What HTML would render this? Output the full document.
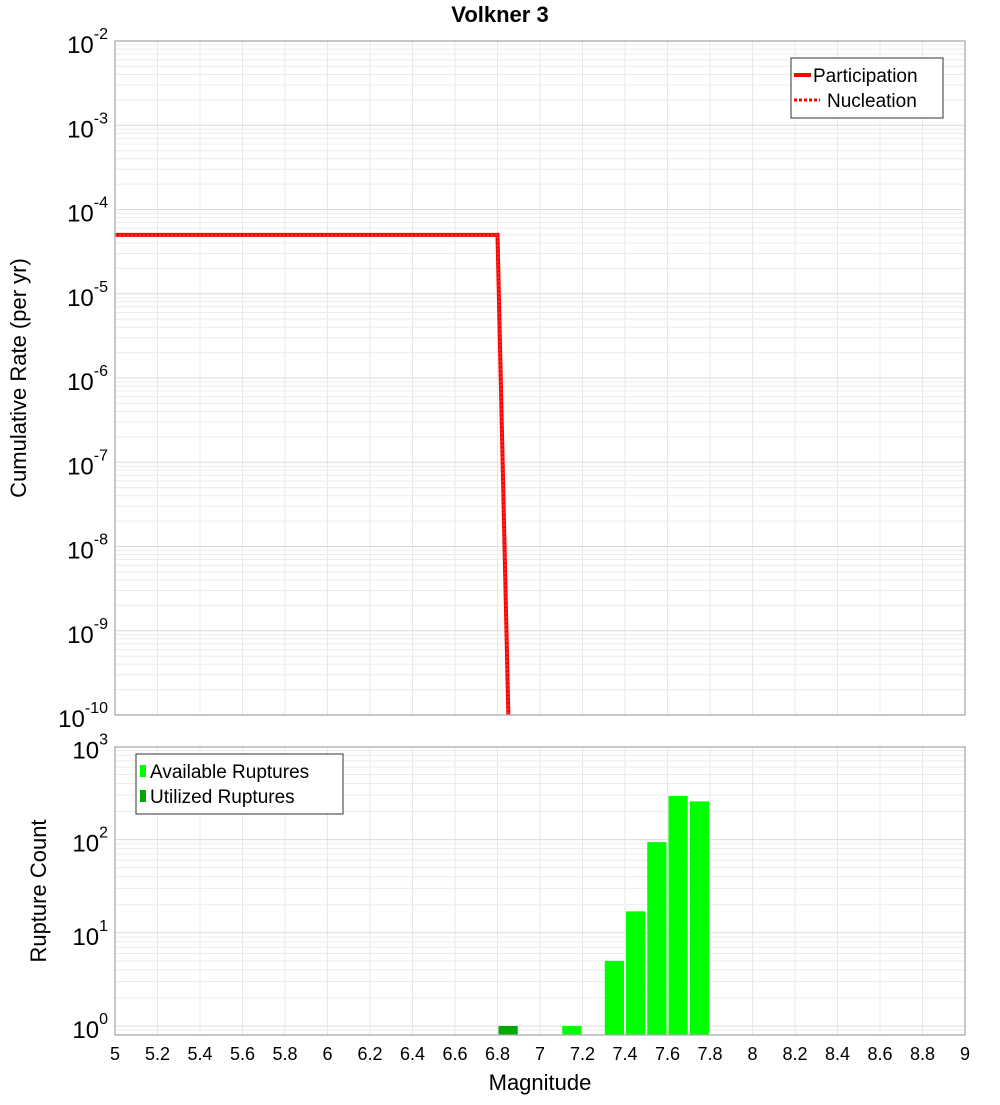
<!DOCTYPE html>
<html><head><meta charset="utf-8"><style>
body{margin:0;background:#fff;}
svg text{font-family:"Liberation Sans","DejaVu Sans",sans-serif;}
</style></head><body>
<svg id="chart" width="1000" height="1100" xmlns="http://www.w3.org/2000/svg">
<text x="500" y="22" text-anchor="middle" font-size="22" font-weight="bold">Volkner 3</text>
<g id="topPlot"></g>
<g id="botPlot"></g>
<text transform="translate(26,378) rotate(-90)" text-anchor="middle" font-size="22">Cumulative Rate (per yr)</text>
<text transform="translate(46,891) rotate(-90)" text-anchor="middle" font-size="22">Rupture Count</text>
<text x="540" y="1090" text-anchor="middle" font-size="22">Magnitude</text>
</svg>
<script>
const rateMags=[5,6.8,6.86];
const rateVals=[5e-5,5e-5,1e-11];
const barMags=[6.85,7.15,7.35,7.45,7.55,7.65,7.75];
const barCounts=[1,1,5,17,94,294,257];
const barUtilized=[true,false,false,false,false,false,false];
const xTicks=[5,5.2,5.4,5.6,5.8,6,6.2,6.4,6.6,6.8,7,7.2,7.4,7.6,7.8,8,8.2,8.4,8.6,8.8,9];
const rateExps=[-2,-3,-4,-5,-6,-7,-8,-9,-10];
const countExps=[0,1,2,3];
const NS="http://www.w3.org/2000/svg";
const X0=115,X1=965;
const xs=m=>X0+(m-5)/4*(X1-X0);
const T0=41,T1=715, yT=v=>T0+(-2-Math.log10(v))/8*(T1-T0);
const B0=747,B1=1035, DEC=93.2, yB=v=>1026-Math.log10(v)*DEC;
function mk(p,t,a){const e=document.createElementNS(NS,t);for(const k in a)e.setAttribute(k,a[k]);p.appendChild(e);return e;}
const topG=document.getElementById('topPlot'),botG=document.getElementById('botPlot');
const defs=mk(document.getElementById('chart'),'defs',{});
const c1=mk(defs,'clipPath',{id:'c1'});mk(c1,'rect',{x:X0,y:T0,width:X1-X0,height:T1-T0});
const c2=mk(defs,'clipPath',{id:'c2'});mk(c2,'rect',{x:X0,y:B0,width:X1-X0,height:B1-B0});
function xgrid(g,y0,y1){for(let m=5;m<=9.001;m+=0.2){const l=mk(g,'line',{x1:xs(m),x2:xs(m),y1:y0,y2:y1,stroke:'#e8e8e8','stroke-width':1});}}
xgrid(topG,T0,T1);xgrid(botG,B0,B1);
for(let e=-10;e<-2;e++)for(let k=1;k<10;k++){const y=yT(k*Math.pow(10,e));const l=mk(topG,'line',{x1:X0,x2:X1,y1:y,y2:y,stroke:k==1?'#dcdcdc':'#ececec','stroke-width':1});}
for(let e=-1;e<3;e++)for(let k=1;k<10;k++){const v=k*Math.pow(10,e);const y=yB(v);if(y<B0||y>B1)continue;const l=mk(botG,'line',{x1:X0,x2:X1,y1:y,y2:y,stroke:k==1?'#dcdcdc':'#ececec','stroke-width':1});}
const d=rateMags.map((m,i)=>(i?'L':'M')+xs(m)+','+yT(rateVals[i])).join(' ');
const g1=mk(topG,'g',{'clip-path':'url(#c1)'});
const p1=mk(g1,'path',{d:d,fill:'none',stroke:'#ff0000','stroke-width':4});


const p2=mk(g1,'path',{d:d,fill:'none',stroke:'#ff3030','stroke-width':2,'stroke-dasharray':'2,2'});


mk(topG,'rect',{x:X0,y:T0,width:X1-X0,height:T1-T0,fill:'none',stroke:'#aaa','stroke-width':1.3});
const g2=mk(botG,'g',{'clip-path':'url(#c2)'});
barMags.forEach((m,i)=>{const y=yB(barCounts[i]);const r=mk(g2,'rect',{x:xs(m-0.05)+1,y:y,width:xs(m+0.05)-xs(m-0.05)-2,height:B1-y,fill:barUtilized[i]?'#00aa00':'#00ff00'});

});
mk(botG,'rect',{x:X0,y:B0,width:X1-X0,height:B1-B0,fill:'none',stroke:'#aaa','stroke-width':1.3});
function expLabel(g,y,e){const t=mk(g,'text',{x:108,y:y+12,'text-anchor':'end','font-size':24});


t.textContent='10';const s=mk(t,'tspan',{dy:-14,'font-size':16});s.textContent=String(e);}
rateExps.forEach(e=>expLabel(topG,yT(Math.pow(10,e)),e));
countExps.forEach(e=>expLabel(botG,yB(Math.pow(10,e)),e));
xTicks.forEach(m=>{const t=mk(botG,'text',{x:xs(m),y:1060,'text-anchor':'middle','font-size':18});


t.textContent=String(m);});
function legend(g,x,y,w,h,items,name){const lg=mk(g,'g',{});


mk(lg,'rect',{x:x,y:y,width:w,height:h,fill:'#fff',stroke:'#333','stroke-width':1});items.forEach((it,i)=>{const yy=y+17+i*25;it.draw(lg,x,yy);const t=mk(lg,'text',{x:x+it.tx,y:yy+7,'font-size':19});t.textContent=it.label;});}
legend(topG,791,58,152,60,[
{label:'Participation',tx:22,draw:(g,x,y)=>mk(g,'line',{x1:x+3,x2:x+20,y1:y,y2:y,stroke:'#f00','stroke-width':4})},
{label:'Nucleation',tx:36,draw:(g,x,y)=>mk(g,'line',{x1:x+3,x2:x+29,y1:y,y2:y,stroke:'#f00','stroke-width':3,'stroke-dasharray':'3,2'})}],'rate-legend');
legend(botG,136,754,207,60,[
{label:'Available Ruptures',tx:14,draw:(g,x,y)=>mk(g,'rect',{x:x+4,y:y-6,width:6,height:12,fill:'#00ff00'})},
{label:'Utilized Ruptures',tx:14,draw:(g,x,y)=>mk(g,'rect',{x:x+4,y:y-6,width:6,height:12,fill:'#00aa00'})}],'count-legend');
</script>
</body></html>
